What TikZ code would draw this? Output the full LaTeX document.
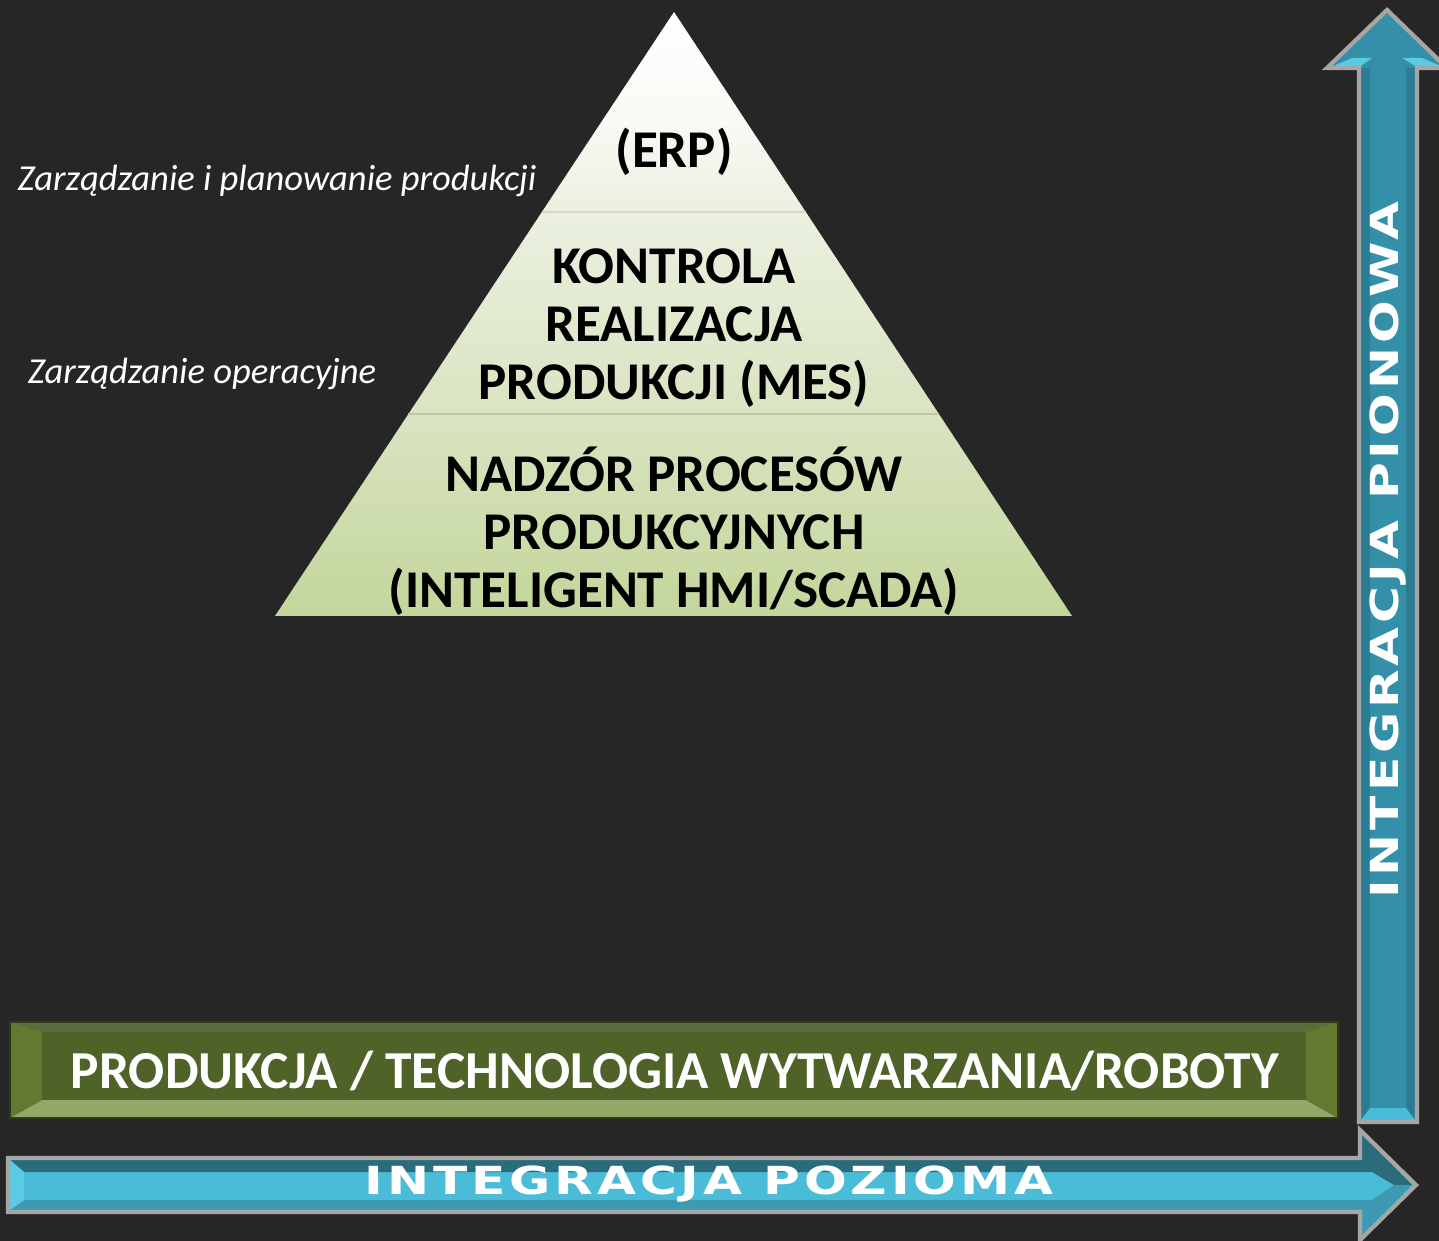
\documentclass[tikz,border=0pt]{standalone}
\usepackage{fontspec}
\setmainfont{Carlito}
\newfontfamily\arrowfont[FakeStretch=1.3,LetterSpace=10]{DejaVu Sans}
\usetikzlibrary{positioning}

\definecolor{bgdark}{HTML}{262626}
\definecolor{pyrbot}{HTML}{C3D69B}
\definecolor{pyrlow}{HTML}{D9E4C1}
\definecolor{pyrmid}{HTML}{EBF0E0}
\definecolor{pyrtop}{HTML}{F8FAF4}
\definecolor{barmain}{HTML}{4F6228}
\definecolor{bartop}{HTML}{5B6B3C}
\definecolor{barbot}{HTML}{93A868}
\definecolor{barside}{HTML}{62792F}
\definecolor{hmain}{HTML}{4BBCD8}
\definecolor{hdark}{HTML}{2A6B7C}
\definecolor{hmid}{HTML}{3E9AB2}
\definecolor{hlight}{HTML}{5CCAE2}
\definecolor{vmain}{HTML}{3390A8}
\definecolor{vdark}{HTML}{2B7D93}
\definecolor{edgegrey}{HTML}{A6A6A6}

\pgfdeclareverticalshading{pyrshade}{100bp}{color(0bp)=(pyrbot); color(25bp)=(pyrbot);
  color(41.7bp)=(pyrlow); color(58.4bp)=(pyrmid); color(66bp)=(pyrtop); color(75bp)=(white); color(100bp)=(white)}

\tikzset{
  layer/.style={align=center,text=black,font=\fontsize{15.1}{16.5}\selectfont\bfseries},
  side/.style={text=white,inner sep=0pt,font=\fontsize{10.4}{12}\selectfont\itshape},
  axis label/.style={text=white,font=\arrowfont\bfseries\fontsize{11}{12}\selectfont},
  divider/.style={draw=#1,line width=0.4pt}
}

\begin{document}
\begin{tikzpicture}[x=0.1mm,y=-0.1mm]
    % Background
    \fill[bgdark] (0,0) rectangle (1439,1241);
    \useasboundingbox (0,0) rectangle (1439,1241);
    \clip (0,0) rectangle (1439,1241);

    % Pyramid
    \coordinate (apex) at (674,12);
    \coordinate (bl) at (275,616);
    \coordinate (br) at (1072,616);
    \shade[shading=pyrshade] (apex) -- (br) -- (bl) -- cycle;
    \draw[divider=pyrmid!80!gray] (541.9,212) -- (805.8,212);
    \draw[divider=pyrlow!70!gray] (408.4,414) -- (938.9,414);

    \node[layer] (erp) at (674,152) {(ERP)};
    \node[layer] (mes) at (674,328) {KONTROLA\\REALIZACJA\\PRODUKCJI (MES)};
    \node[layer] (scada) at (674,531) {NADZÓR PROCESÓW\\PRODUKCYJNYCH\\(INTELIGENT HMI/SCADA)};

    % Side labels
    \node[side] (plan) at (277,181) {Zarządzanie i planowanie produkcji};
    \node[side] (oper) at (202,374) {Zarządzanie operacyjne};

    % Production bar (bevelled)
    \fill[barmain] (10,1022) rectangle (1338,1118);
    \fill[bartop] (10,1022) -- (1338,1022) -- (1306,1032) -- (42,1032) -- cycle;
    \fill[barbot] (10,1118) -- (1338,1118) -- (1306,1100) -- (42,1100) -- cycle;
    \fill[barside] (10,1022) -- (42,1032) -- (42,1100) -- (10,1118) -- cycle;
    \fill[barside] (1338,1022) -- (1306,1032) -- (1306,1100) -- (1338,1118) -- cycle;
    \draw[barmain!60!black,line width=0.6pt] (10,1022) rectangle (1338,1118);
    \node[text=white,font=\fontsize{15.2}{18}\selectfont\bfseries] (prod) at (675,1071)
      {PRODUKCJA / TECHNOLOGIA WYTWARZANIA/ROBOTY};

    % Horizontal arrow
    \fill[hmain] (8,1158) -- (1360,1158) -- (1360,1130) -- (1416,1185) -- (1360,1240) -- (1360,1212) -- (8,1212) -- cycle;
    \fill[hdark] (10,1160) -- (1362,1160) -- (1362,1134) -- (1412,1185) -- (1394,1185) -- (1372,1172) -- (24,1172) -- cycle;
    \fill[hmid] (10,1210) -- (1362,1210) -- (1362,1236) -- (1412,1185) -- (1394,1185) -- (1372,1200) -- (24,1200) -- cycle;
    \fill[hlight] (10,1160) -- (24,1172) -- (24,1200) -- (10,1210) -- cycle;
    \draw[edgegrey,line width=1.2pt,line join=miter] (8,1158) -- (1360,1158) -- (1360,1130) -- (1416,1185) -- (1360,1240) -- (1360,1212) -- (8,1212) -- cycle;
    \node[axis label] (hor) at (709,1184) {INTEGRACJA POZIOMA};

    % Vertical arrow
    \fill[vmain] (1359,1122) -- (1359,68) -- (1327,68) -- (1387,10) -- (1447,68) -- (1417,68) -- (1417,1122) -- cycle;
    \fill[vdark] (1361,1120) -- (1361,68) -- (1370,68) -- (1370,1108) -- cycle;
    \fill[vdark] (1415,1120) -- (1415,68) -- (1406,68) -- (1406,1108) -- cycle;
    \fill[hmain] (1361,1120) -- (1370,1108) -- (1406,1108) -- (1415,1120) -- cycle;
    \fill[hlight] (1331,67) -- (1352,58) -- (1372,58) -- (1359,67) -- cycle;
    \fill[hlight] (1443,67) -- (1422,58) -- (1402,58) -- (1417,67) -- cycle;
    \draw[edgegrey,line width=1.2pt,line join=miter] (1359,1122) -- (1359,68) -- (1327,68) -- (1387,10) -- (1447,68) -- (1417,68) -- (1417,1122) -- cycle;
    \node[axis label,rotate=90] (ver) at (1388,550) {INTEGRACJA PIONOWA};
\end{tikzpicture}
\end{document}
